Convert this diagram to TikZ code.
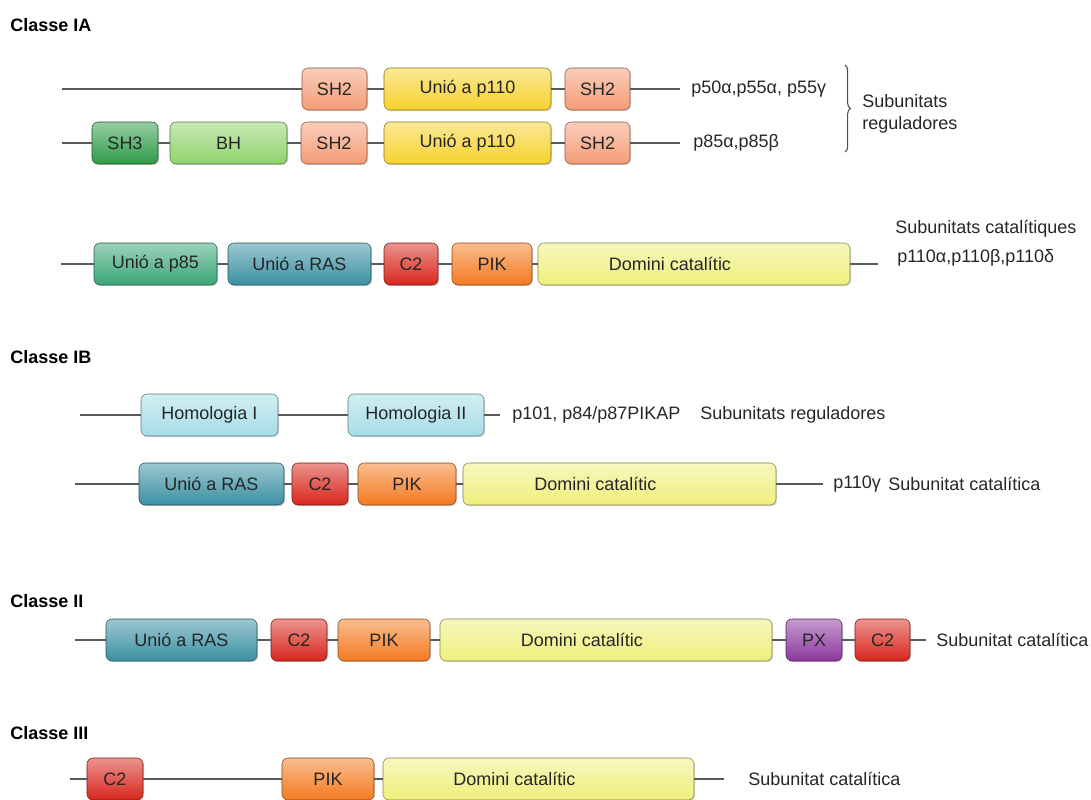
\documentclass[tikz,border=0pt]{standalone}
\usepackage{fontspec}
\setmainfont{Liberation Sans}
\usetikzlibrary{shadows, decorations.pathreplacing}

\definecolor{sh2col}{HTML}{F49C76}
\definecolor{p110col}{HTML}{F6D22C}
\definecolor{sh3col}{HTML}{2E9B48}
\definecolor{bhcol}{HTML}{8ED36B}
\definecolor{p85col}{HTML}{3AA677}
\definecolor{rascol}{HTML}{3A90A2}
\definecolor{c2col}{HTML}{D8261D}
\definecolor{pikcol}{HTML}{F47A20}
\definecolor{catcol}{HTML}{EFEF7C}
\definecolor{homcol}{HTML}{A6DCE6}
\definecolor{pxcol}{HTML}{8C379C}

\tikzset{
  dom/.style={draw=#1!55!black, rounded corners=4.5pt, top color=#1!50!white, bottom color=#1,
    minimum height=31.5pt, inner sep=0pt, text=black!85, font=\fontsize{13.5}{16}\selectfont,
    drop shadow={opacity=0.3, shadow xshift=0.9pt, shadow yshift=-0.9pt}},
  catdom/.style={dom=catcol, execute at begin node=\hspace*{-36pt}},
  len/.style={minimum width=#1*0.75pt},
  chain/.style={draw=black!65, line width=1.1pt},
  lbl/.style={anchor=west, inner sep=0pt, text=black!85, font=\fontsize{13.5}{16.5}\selectfont},
  head/.style={anchor=west, inner sep=0pt, font=\bfseries\fontsize{13.5}{16}\selectfont}
}

\begin{document}
\begin{tikzpicture}[x=0.75pt, y=-0.75pt]
  \useasboundingbox (0,0) rectangle (1091,799);

  % Classe IA
  \node[head] (tIA) at (10,25) {Classe IA};

  \coordinate (r1s) at (62,89);
  \node[dom=sh2col, len=65] (sh2a) at (334.5,89) {SH2};
  \node[dom=p110col, len=167] (ubpa) at (467.5,89) {Unió a p110};
  \node[dom=sh2col, len=65] (sh2b) at (597.5,89) {SH2};
  \coordinate (r1e) at (680,89);
  \node[lbl] (l1) at (691,89) {p50α,p55α, p55γ};
  \draw[chain] (r1s) -- (sh2a) -- (ubpa) -- (sh2b) -- (r1e);

  \coordinate (r2s) at (62,143);
  \node[dom=sh3col, len=66] (sh3) at (125,143) {SH3};
  \node[dom=bhcol, len=117] (bh) at (228.5,143) {BH};
  \node[dom=sh2col, len=66] (sh2c) at (334,143) {SH2};
  \node[dom=p110col, len=167] (ubpb) at (467.5,143) {Unió a p110};
  \node[dom=sh2col, len=65] (sh2d) at (597.5,143) {SH2};
  \coordinate (r2e) at (680,143);
  \node[lbl] (l2) at (693,143) {p85α,p85β};
  \draw[chain] (r2s) -- (sh3) -- (bh) -- (sh2c) -- (ubpb) -- (sh2d) -- (r2e);

  \coordinate (bra) at (845,65);
  \coordinate (brb) at (845,152);
  \draw[black!70, line width=0.8pt, decorate, decoration={brace, amplitude=4pt}] (bra) -- (brb);
  \node[lbl, align=left] (reg1) at (862,114) {Subunitats\\reguladores};

  \coordinate (r3s) at (61,264);
  \node[dom=p85col, len=123] (p85) at (155.5,264) {Unió a p85};
  \node[dom=rascol, len=143] (ras3) at (299.5,264) {Unió a RAS};
  \node[dom=c2col, len=54] (c23) at (411,264) {C2};
  \node[dom=pikcol, len=80] (pik3) at (492,264) {PIK};
  \node[catdom, len=312] (cat3) at (694,264) {Domini catalític};
  \coordinate (r3e) at (878,264);
  \node[lbl] (cat1) at (895,229) {Subunitats catalítiques};
  \node[lbl] (l3) at (897,258) {p110α,p110β,p110δ};
  \draw[chain] (r3s) -- (p85) -- (ras3) -- (c23) -- (pik3) -- (cat3) -- (r3e);

  % Classe IB
  \node[head] (tIB) at (10,357) {Classe IB};

  \coordinate (r4s) at (80,415);
  \node[dom=homcol, len=137] (hom1) at (209.5,415) {Homologia I};
  \node[dom=homcol, len=136] (hom2) at (416,415) {Homologia II};
  \coordinate (r4e) at (500,415);
  \node[lbl] (l4) at (512,415) {p101, p84/p87PIKAP};
  \node[lbl] (reg2) at (700,415) {Subunitats reguladores};
  \draw[chain] (r4s) -- (hom1) -- (hom2) -- (r4e);

  \coordinate (r5s) at (75,484);
  \node[dom=rascol, len=145] (ras5) at (211.5,484) {Unió a RAS};
  \node[dom=c2col, len=56] (c25) at (320,484) {C2};
  \node[dom=pikcol, len=98] (pik5) at (407,484) {PIK};
  \node[catdom, len=313] (cat5) at (619.5,484) {Domini catalític};
  \coordinate (r5e) at (823,484);
  \node[lbl] (l5) at (833,484) {p110γ};
  \node[lbl] (cat2) at (888,484) {Subunitat catalítica};
  \draw[chain] (r5s) -- (ras5) -- (c25) -- (pik5) -- (cat5) -- (r5e);

  % Classe II
  \node[head] (tII) at (10,601) {Classe II};

  \coordinate (r6s) at (75,640);
  \node[dom=rascol, len=151] (ras6) at (181.5,640) {Unió a RAS};
  \node[dom=c2col, len=56] (c26) at (299,640) {C2};
  \node[dom=pikcol, len=92] (pik6) at (384,640) {PIK};
  \node[catdom, len=332] (cat6) at (606,640) {Domini catalític};
  \node[dom=pxcol, len=56] (px) at (814,640) {PX};
  \node[dom=c2col, len=55] (c26b) at (882.5,640) {C2};
  \coordinate (r6e) at (926,640);
  \node[lbl] (cat3l) at (936,640) {Subunitat catalítica};
  \draw[chain] (r6s) -- (ras6) -- (c26) -- (pik6) -- (cat6) -- (px) -- (c26b) -- (r6e);

  % Classe III
  \node[head] (tIII) at (10,733) {Classe III};

  \coordinate (r7s) at (70,779);
  \node[dom=c2col, len=56] (c27) at (115,779) {C2};
  \node[dom=pikcol, len=92] (pik7) at (328,779) {PIK};
  \node[catdom, len=311] (cat7) at (538.5,779) {Domini catalític};
  \coordinate (r7e) at (724,779);
  \node[lbl] (cat4l) at (748,779) {Subunitat catalítica};
  \draw[chain] (r7s) -- (c27) -- (pik7) -- (cat7) -- (r7e);
\end{tikzpicture}
\end{document}
